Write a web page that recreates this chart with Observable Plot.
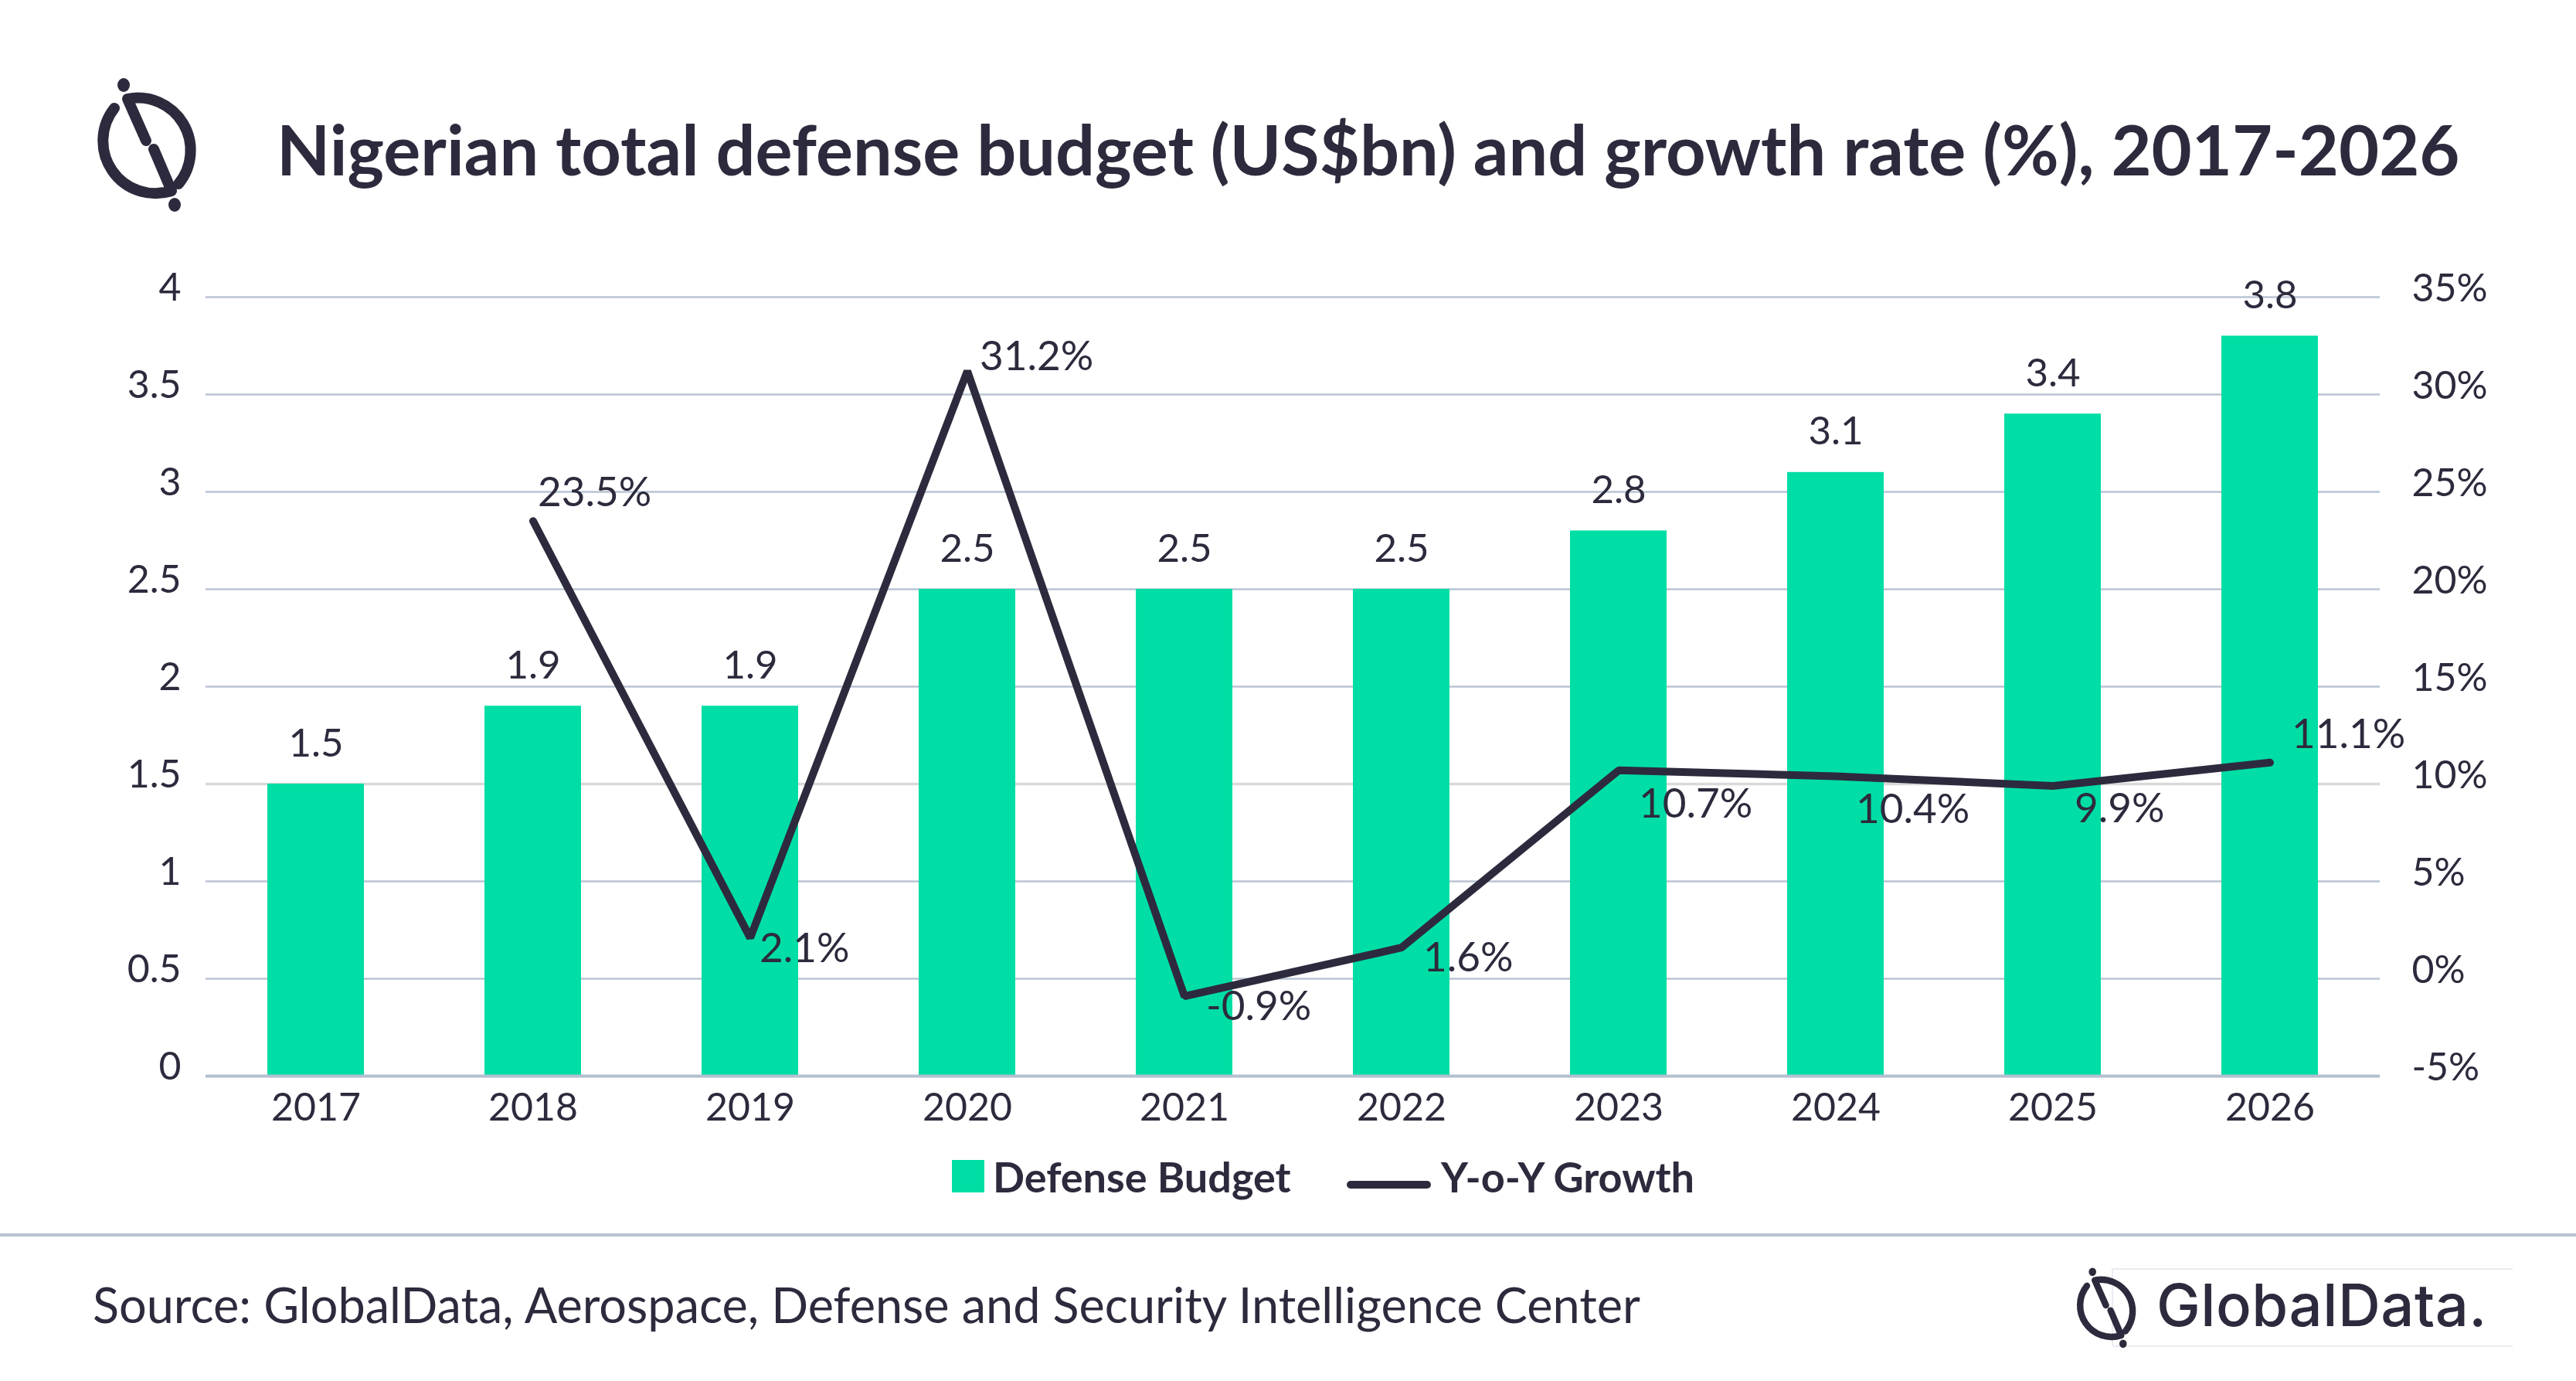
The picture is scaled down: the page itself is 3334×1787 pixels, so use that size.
<!DOCTYPE html>
<html>
<head>
<meta charset="utf-8">
<script src="https://cdn.jsdelivr.net/npm/d3@7"></script>
<script src="https://cdn.jsdelivr.net/npm/@observablehq/plot@0.6"></script>
<style>
  html, body { margin: 0; padding: 0; background: #ffffff; }
  body { width: 3334px; height: 1787px; position: relative; overflow: hidden; font-family: Lato, "Open Sans", sans-serif; }
  #overlay { position: absolute; left: 0; top: 0; }
  #chart { position: absolute; left: 0; top: 300px; }
</style>
</head>
<body>
<div id="chart"></div>
<svg id="overlay" width="3334" height="1787" xmlns="http://www.w3.org/2000/svg"></svg>
<script>
// ---- data ----
const years = ["2017", "2018", "2019", "2020", "2021", "2022", "2023", "2024", "2025", "2026"];
const budget = [1.5, 1.9, 1.9, 2.5, 2.5, 2.5, 2.8, 3.1, 3.4, 3.8];
const growth = [null, 23.5, 2.1, 31.2, -0.9, 1.6, 10.7, 10.4, 9.9, 11.1];
const growthLabelPlacement = [null, "top", "right-near", "right-up", "right", "right", "below", "below", "below-short", "above"];
const leftTicks = [0, 0.5, 1, 1.5, 2, 2.5, 3, 3.5, 4];
const rightTicks = [-5, 0, 5, 10, 15, 20, 25, 30, 35];
const seriesNames = ["Defense Budget", "Y-o-Y Growth"];
const titleText = "Nigerian total defense budget (US$bn) and growth rate (%), 2017-2026";
const sourceText = "Source: GlobalData, Aerospace, Defense and Security Intelligence Center";

// ---- styles ----
const GREEN = "#00DEA5";
const INK = "#2E2A3D";
const GRID = "#B9C4D3";
const GRID_GREY = "#D9D9D9";
const FONT = "Lato";

// secondary axis: growth (%) [-5, 35] mapped onto the budget axis [0, 4]
const toLeft = g => (g + 5) / 10;

const rows = years.map((year, i) => ({year, budget: budget[i]}));
const lineRows = years.map((year, i) => ({year, growth: growth[i], place: growthLabelPlacement[i]}))
  .filter(d => d.growth !== null);

// label placement styles (offsets in px)
const placementStyle = {
  "top": {dx: 6, dy: -36},
  "above": {dx: 28, dy: -36},
  "right-up": {dx: 16, dy: -18},
  "right-near": {dx: 12, dy: 14},
  "right": {dx: 28, dy: 14},
  "below": {dx: 26, dy: 44},
  "below-short": {dx: 28, dy: 30}
};

const chart = Plot.plot({
  width: 3334,
  height: 1180,
  marginLeft: 266,
  marginRight: 254,
  marginTop: 84,
  marginBottom: 88,
  style: {fontFamily: FONT, fontSize: "50px", color: INK, background: "transparent", overflow: "visible"},
  x: {domain: years, paddingInner: 0.556, paddingOuter: 0.278, label: null},
  y: {domain: [0, 4], label: null},
  marks: [
    Plot.gridY(leftTicks.filter(t => t !== 1.5), {stroke: GRID, strokeOpacity: 1, strokeWidth: 2.5}),
    Plot.gridY([1.5], {stroke: GRID_GREY, strokeOpacity: 1, strokeWidth: 3.5}),
    Plot.barY(rows, {x: "year", y: "budget", fill: GREEN}),
    Plot.ruleY([0], {stroke: "#B4C0D0", strokeWidth: 4}),
    Plot.text(rows, {x: "year", y: "budget", text: d => d.budget.toFixed(1), lineAnchor: "bottom", dy: -36, fill: INK, fontSize: 51}),
    Plot.line(lineRows, {x: "year", y: d => toLeft(d.growth), stroke: INK, strokeWidth: 10, strokeLinecap: "round", strokeLinejoin: "miter"}),
    ...Object.entries(placementStyle).map(([place, {dx, dy}]) =>
      Plot.text(lineRows.filter(d => d.place === place), {
        x: "year", y: d => toLeft(d.growth), text: d => d.growth.toFixed(1) + "%",
        textAnchor: "start", dx, dy, fill: INK, fontSize: 53
      })
    ),
    Plot.axisX({tickSize: 0, tickPadding: 22, fontSize: 50, fill: INK, label: null}),
    Plot.axisY(leftTicks, {anchor: "left", tickSize: 0, tickPadding: 32, dy: -12, fontSize: 50, fill: INK, label: null, tickFormat: d => String(d)}),
    Plot.axisY(rightTicks.map(toLeft), {anchor: "right", tickSize: 0, tickPadding: 41, dy: -11, fontSize: 50, fill: INK, label: null,
      tickFormat: v => `${Math.round(v * 10 - 5)}%`})
  ]
});
document.getElementById("chart").appendChild(chart);

// ---- overlay: logo, title, legend, footer ----
const svg = d3.select("#overlay");

function logo(g) {
  g.append("path")
    .attr("d", "M189 182 L165 128 A68 68 0 0 1 231 238")
    .attr("fill", "none").attr("stroke", INK).attr("stroke-width", 14)
    .attr("stroke-linecap", "round").attr("stroke-linejoin", "round");
  g.append("path")
    .attr("d", "M199 193 L222 247 A68 68 0 0 1 148 140")
    .attr("fill", "none").attr("stroke", INK).attr("stroke-width", 14)
    .attr("stroke-linecap", "round").attr("stroke-linejoin", "round");
  g.append("ellipse").attr("cx", 160).attr("cy", 110).attr("rx", 8).attr("ry", 9).attr("fill", INK);
  g.append("ellipse").attr("cx", 226).attr("cy", 265).attr("rx", 8).attr("ry", 9).attr("fill", INK);
}
logo(svg.append("g"));

svg.append("text").attr("x", 358).attr("y", 227)
  .attr("font-family", FONT).attr("font-weight", 700).attr("font-size", 90).attr("fill", INK)
  .text(titleText);

// legend
svg.append("rect").attr("x", 1232).attr("y", 1501).attr("width", 42).attr("height", 42).attr("fill", GREEN);
svg.append("text").attr("x", 1285).attr("y", 1543)
  .attr("font-family", FONT).attr("font-weight", 700).attr("font-size", 54).attr("fill", INK).text(seriesNames[0]);
svg.append("line").attr("x1", 1748).attr("x2", 1847).attr("y1", 1533).attr("y2", 1533)
  .attr("stroke", INK).attr("stroke-width", 10).attr("stroke-linecap", "round");
svg.append("text").attr("x", 1865).attr("y", 1543)
  .attr("font-family", FONT).attr("font-weight", 700).attr("font-size", 54).attr("fill", INK).text(seriesNames[1]);

// separator
svg.append("rect").attr("x", 0).attr("y", 1596).attr("width", 3334).attr("height", 4).attr("fill", "#B7C2D1");

// source
svg.append("text").attr("x", 120).attr("y", 1712)
  .attr("font-family", FONT).attr("font-size", 63).attr("fill", INK).text(sourceText);

// footer brand
svg.append("path").attr("d", "M2734 1642 H3252 M2734 1742 H3252 M2734 1642 V1742")
  .attr("stroke", "#E9ECF1").attr("stroke-width", 2).attr("fill", "none");
logo(svg.append("g").attr("transform", "translate(2686,1641) scale(0.6) translate(-123,-102)"));
svg.append("text").attr("x", 2791).attr("y", 1716)
  .attr("font-family", "Inter").attr("font-weight", 500).attr("font-size", 76).attr("letter-spacing", 0.5).attr("fill", INK).text("GlobalData.");
</script>
</body>
</html>
